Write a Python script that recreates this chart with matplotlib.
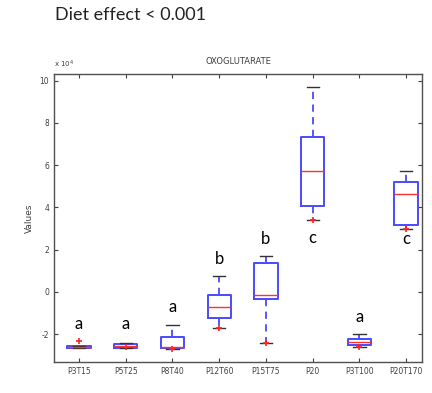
import matplotlib
matplotlib.use('Agg')
import matplotlib.pyplot as plt

groups = ['P3T15', 'P5T25', 'P8T40', 'P12T60', 'P15T75', 'P20', 'P3T100', 'P20T170']
q1 = [-2.68, -2.68, -2.64, -1.26, -0.33, 4.07, -2.54, 3.17]
med = [-2.60, -2.55, -2.60, -0.72, -0.16, 5.71, -2.38, 4.63]
q3 = [-2.56, -2.45, -2.14, -0.16, 1.36, 7.34, -2.22, 5.21]
whislo = [-2.68, -2.68, -2.70, -1.70, -2.40, 3.40, -2.62, 2.96]
whishi = [-2.56, -2.40, -1.55, 0.76, 1.72, 9.71, -1.99, 5.73]
outliers = [[-2.35], [-2.62], [-2.70], [-1.70], [-2.40], [3.40], [-2.62], [2.96]]
letters = ['a', 'a', 'a', 'b', 'b', 'c', 'a', 'c']
letter_y = [-1.5, -1.5, -0.7, 1.55, 2.5, 2.55, -1.17, 2.5]
yticks = [-2, 0, 2, 4, 6, 8, 10]

fig = plt.figure(figsize=(4.32, 3.93), dpi=100)
ax = fig.add_axes([0.125, 0.079, 0.852, 0.733])

stats = []
for i in range(len(groups)):
    stats.append(dict(med=med[i], q1=q1[i], q3=q3[i], whislo=whislo[i],
                      whishi=whishi[i], fliers=[], label=groups[i]))
pos = list(range(1, len(groups) + 1))
ax.bxp(stats, positions=pos, widths=0.5, capwidths=0.26, showfliers=False,
       boxprops=dict(color='#4a4aff', linewidth=1.4),
       medianprops=dict(color='#ff3030', linewidth=1.0),
       whiskerprops=dict(color='#4a4aff', linewidth=1.3, linestyle=(0, (4, 3))),
       capprops=dict(color='#333333', linewidth=1.0))

for i, o in enumerate(outliers):
    ax.plot([pos[i]] * len(o), o, '+', color='#ff2020', ms=4.5, mew=1.2)

for i, l in enumerate(letters):
    ax.text(pos[i], letter_y[i], l, ha='center', va='center', fontsize=12,
            family='Lato', color='black')

ax.set_xlim(0.465, 8.34)
ax.set_ylim(-3.32, 10.32)
ax.set_yticks(yticks)
ax.set_yticklabels([str(t) for t in yticks])
ax.set_xticks(pos)
ax.set_xticklabels(groups)
ax.tick_params(direction='in', top=True, right=True, labelsize=5.5,
               labelcolor='#404040', color='#404040', length=3, width=0.8)
for s in ax.spines.values():
    s.set_color('#505050')
    s.set_linewidth(1.0)
ax.set_ylabel('Values', fontsize=6.5, color='#404040', labelpad=4)
ax.set_title('OXOGLUTARATE', fontsize=6, color='#404040', pad=7)
ax.text(0.0, 1.015, 'x 10$^4$', transform=ax.transAxes, fontsize=5,
        color='#404040', ha='left', va='bottom')

fig.text(0.127, 0.962, 'Diet effect < 0.001', fontsize=13, family='Lato',
         ha='left', va='center', color='#222222')

fig.savefig('out.png', dpi=100)
